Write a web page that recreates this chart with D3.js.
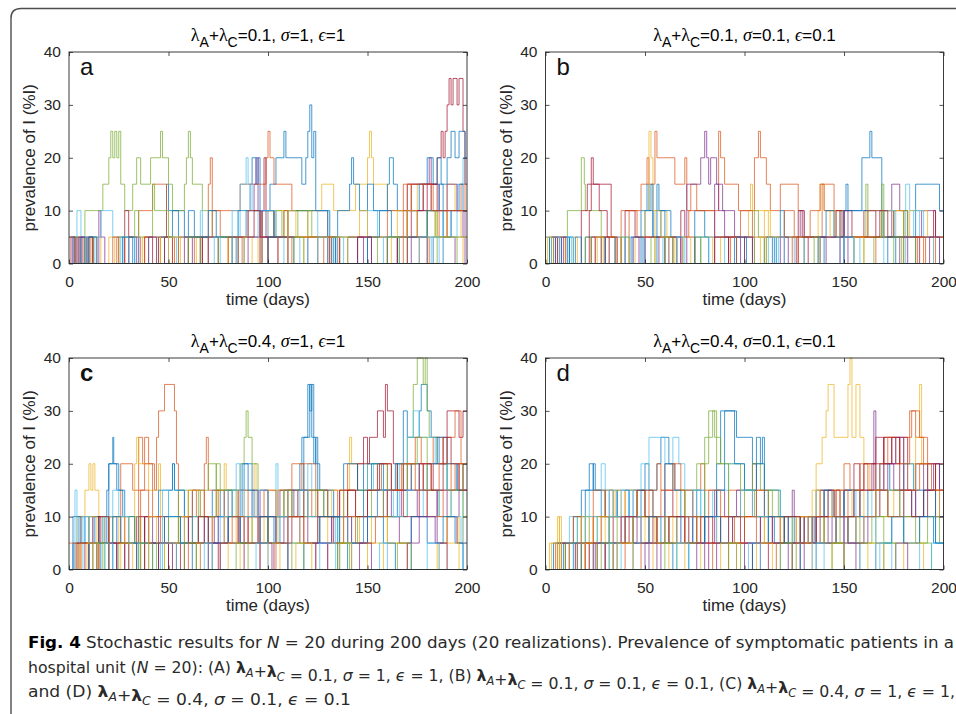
<!DOCTYPE html>
<html>
<head>
<meta charset="utf-8">
<script src="https://cdn.jsdelivr.net/npm/d3@7"></script>
<style>
  body { margin: 0; background: #fff; }
  svg { display: block; }
</style>
</head>
<body>
<svg id="fig" width="956" height="714"></svg>
<script>
// tick labels, panel texts
const X_TICKS = [0, 50, 100, 150, 200];
const Y_TICKS = [0, 10, 20, 30, 40];
const PANEL_LETTERS = ["a", "b", "c", "d"];
const PANEL_LAMBDA = ["0.1", "0.1", "0.4", "0.4"];
const PANEL_SIGMA = ["1", "0.1", "1", "0.1"];
const PANEL_EPS = ["1", "0.1", "1", "0.1"];
// matlab default line colours, used in order
const COLORS = ["#0072BD", "#D95319", "#EDB120", "#7E2F8E", "#77AC30", "#4DBEEE", "#A2142F"];

// each realization: [day, prevalence, day, prevalence, ...], value holds until next day listed
const seriesA = [
  [0,0, 2,5, 5,0, 9,5, 12,0, 30,5, 33,0, 48,5, 49,15, 50,10, 58,5, 66,0, 88,5, 89,10, 91,15, 92,20, 94,15, 95,20, 96,10, 101,15, 104,20, 108,25, 109,20, 117,15, 119,20, 120,25, 121,30, 122,20, 123,25, 124,10, 131,5, 133,0, 134,5, 136,0, 160,5, 165,0, 183,5, 188,0],
  [0,0, 4,5, 8,0, 11,5, 14,0, 24,5, 28,0, 35,10, 42,15, 49,5, 53,0, 63,5, 70,15, 71,20, 72,10, 86,15, 99,20, 100,25, 101,20, 103,15, 112,10, 130,5, 135,0, 150,5, 160,0, 176,5, 181,0],
  [0,0, 12,5, 16,0, 37,5, 40,0, 64,5, 75,0, 80,5, 95,0, 100,10, 110,5, 120,10, 127,15, 133,10, 144,15, 150,20, 151,25, 152,20, 153,15, 160,10, 170,5, 175,15, 178,10, 185,5, 198,0],
  [0,0, 2,5, 4,0, 15,10, 16,5, 18,0, 45,5, 50,0, 58,5, 62,0, 82,5, 90,10, 93,15, 94,20, 95,10, 97,5, 105,0, 120,5, 125,0, 165,5, 170,15, 181,20, 182,15, 186,10, 190,5, 194,0, 199,10],
  [0,0, 3,5, 6,0, 8,10, 17,15, 20,20, 21,25, 22,20, 23,25, 24,20, 25,25, 26,15, 28,10, 32,15, 34,20, 36,15, 41,20, 46,25, 47,20, 50,15, 52,10, 58,15, 59,20, 60,25, 61,20, 62,15, 67,10, 72,5, 85,0, 97,10, 103,5, 108,10, 120,5, 130,0, 145,5, 155,0, 180,10, 185,0],
  [0,5, 4,10, 6,5, 16,10, 22,5, 27,0, 40,5, 48,0, 60,5, 66,10, 67,5, 86,15, 89,20, 90,15, 92,10, 100,5, 108,0, 120,5, 125,10, 131,0, 133,5, 138,0, 150,10, 155,5, 170,10, 180,5, 195,15, 198,20, 199,15],
  [0,0, 1,5, 3,0, 5,5, 7,0, 28,10, 30,5, 35,0, 48,5, 52,0, 67,5, 70,0, 97,10, 98,20, 99,10, 103,5, 110,0, 130,5, 136,0, 165,5, 172,15, 185,20, 187,25, 188,20, 189,25, 190,30, 191,35, 192,30, 193,35, 195,30, 196,35, 198,25, 199,15],
  [0,5, 3,0, 6,5, 8,0, 45,5, 52,10, 55,5, 60,10, 63,5, 85,10, 100,10, 103,5, 110,10, 125,10, 130,5, 135,10, 141,15, 142,20, 143,15, 146,10, 150,15, 153,10, 160,15, 161,20, 163,15, 165,10, 176,15, 180,20, 183,15, 185,20, 187,15, 190,20, 192,25, 194,20, 196,25, 199,20],
  [0,0, 9,5, 12,0, 30,5, 36,0, 46,5, 52,0, 66,5, 72,10, 76,5, 90,10, 96,5, 108,10, 110,5, 136,0, 140,5, 160,10, 168,15, 172,10, 178,15, 183,10, 186,5, 190,10, 197,15, 199,10],
  [0,0, 20,5, 23,0, 44,5, 46,0, 70,5, 80,0, 96,5, 100,0, 118,5, 125,0, 140,5, 146,10, 150,5, 165,10, 170,5, 180,10, 184,5, 190,15, 194,10, 197,5],
  [0,0, 6,5, 9,0, 30,5, 34,0, 70,5, 75,0, 96,10, 99,5, 110,0, 140,5, 148,0, 160,5, 175,10, 178,15, 182,10, 190,15, 195,10, 198,5],
  [0,0, 10,5, 12,0, 25,5, 33,10, 35,5, 42,15, 43,10, 50,5, 55,0, 75,5, 82,0, 100,5, 104,10, 107,5, 115,10, 122,5, 140,5, 145,0, 170,5, 180,10, 184,5, 195,0],
  [0,0, 9,5, 13,0, 26,5, 30,0, 50,5, 54,0, 82,10, 85,5, 95,10, 104,5, 116,0, 135,5, 140,0, 158,5, 166,0, 182,5, 188,10, 192,5],
  [0,0, 10,5, 12,0, 38,5, 42,0, 60,5, 67,0, 85,5, 93,10, 96,5, 131,0, 145,5, 152,0, 170,10, 180,15, 185,10],
  [0,0, 10,5, 14,0, 27,5, 32,0, 60,5, 70,10, 74,5, 84,0, 100,5, 113,0, 132,5, 134,0, 150,5, 156,10, 162,5, 180,10, 186,15, 188,5, 192,10, 196,15, 198,10],
  [0,5, 3,0, 22,5, 25,0, 38,5, 45,0, 55,5, 60,0, 80,5, 87,0, 105,5, 112,0, 128,5, 132,0, 168,10, 170,15, 182,10],
  [0,0, 50,5, 56,0, 88,5, 92,0, 110,10, 114,5, 140,0, 162,5, 170,10, 175,5],
  [0,0, 40,5, 44,0, 90,5, 100,0, 145,5, 152,0, 172,5, 180,0],
  [0,0, 60,5, 66,0, 113,5, 118,0, 160,5, 166,0],
  [0,0, 33,5, 35,0, 73,5, 76,0, 125,5, 130,0, 176,5, 186,0]
];

const seriesB = [
  [0,0, 3,5, 5,0, 12,5, 14,0, 20,5, 30,0, 50,10, 51,15, 52,10, 54,5, 60,0, 75,10, 80,5, 95,0, 110,5, 115,0, 130,5, 148,10, 151,15, 152,10, 159,20, 163,25, 164,20, 169,10, 175,5, 186,15, 193,15, 198,10, 200,5],
  [0,0, 4,5, 7,0, 38,10, 48,15, 51,20, 52,15, 55,25, 56,20, 65,15, 70,20, 71,10, 73,15, 76,10, 87,25, 88,20, 90,15, 97,10, 105,20, 107,25, 108,20, 111,15, 113,10, 118,15, 127,10, 130,5, 139,15, 145,10, 150,5, 166,0, 180,5, 190,0],
  [0,0, 2,5, 10,0, 30,5, 35,0, 45,5, 50,10, 52,25, 53,20, 54,10, 61,5, 64,0, 88,5, 102,10, 103,15, 104,10, 113,5, 130,0, 137,10, 138,15, 140,10, 145,5, 169,10, 180,5, 186,0, 195,5],
  [0,0, 5,5, 8,0, 23,5, 25,0, 50,5, 57,0, 71,15, 78,20, 80,25, 81,20, 82,15, 83,20, 86,15, 89,10, 95,5, 100,0, 120,5, 128,10, 130,5, 150,10, 152,5, 174,15, 178,10, 182,5, 189,10, 196,5],
  [0,0, 2,5, 4,0, 11,10, 18,20, 19.5,15, 20,10, 28,5, 35,0, 53,5, 55,0, 100,5, 105,0, 160,5, 161,15, 162,5, 170,10, 175,5, 180,0],
  [0,0, 6,5, 13,0, 40,5, 44,0, 59,5, 62,0, 90,5, 96,0, 125,5, 130,0, 148,5, 158,0, 181,15, 183,10, 188,5, 198,0],
  [0,0, 3,5, 6,0, 18,10, 21,15, 23,20, 24,15, 33,5, 35,0, 40,10, 45,5, 60,0, 68,10, 70,5, 75,0, 92,5, 104,0, 126,5, 132,0, 150,10, 154,5, 160,10, 166,5, 188,0],
  [0,5, 2,0, 8,5, 12,0, 28,5, 30,0, 48,10, 53,15, 54,5, 58,10, 60,5, 66,0, 75,5, 82,0, 111,5, 114,0, 116,5, 118,10, 120,5, 140,0, 150,10, 169,5, 182,5, 186,0],
  [0,0, 7,5, 10,0, 23,5, 38,0, 42,10, 46,5, 72,10, 85,5, 98,10, 104,5, 120,10, 125,5, 133,10, 138,15, 140,10, 148,5, 162,10, 170,5, 175,10, 180,5, 196,0],
  [0,0, 1,5, 3,0, 14,5, 16,0, 32,5, 36,0, 55,10, 58,5, 65,0, 78,5, 84,0, 110,10, 112,5, 143,10, 146,5, 169,10, 180,5, 183,10, 192,5],
  [0,0, 9,5, 11,0, 30,5, 32,0, 64,5, 68,0, 85,15, 87,10, 90,5, 98,0, 118,5, 122,0, 148,5, 152,0, 178,5, 182,0],
  [0,0, 20,5, 23,0, 60,5, 64,0, 105,10, 107,5, 110,0, 165,5, 169,15, 170,5, 180,10, 182,5, 186,0],
  [0,0, 11,5, 14,0, 35,5, 40,0, 78,5, 82,0, 117,5, 120,0, 170,10, 176,5, 185,10, 190,5, 195,0],
  [0,0, 22,10, 23,15, 27,10, 31,5, 36,0, 85,5, 92,0, 127,10, 129,5, 146,10, 149,5, 168,10, 172,5, 195,10, 196,5],
  [0,0, 15,5, 18,0, 43,5, 49,0, 56,15, 57,10, 63,5, 69,0, 96,5, 101,0, 137,5, 141,10, 145,5, 155,0, 172,5, 176,0],
  [0,0, 25,5, 28,0, 62,5, 66,0, 93,5, 96,0, 124,5, 127,0, 187,5, 191,0],
  [0,0, 26,5, 29,0, 69,5, 73,0, 108,5, 111,0, 155,5, 160,0],
  [0,0, 44,5, 47,0, 100,5, 104,0, 138,5, 141,0, 193,5, 198,0],
  [0,0, 38,5, 42,0, 75,5, 78,0, 135,5, 138,0, 175,5, 179,0],
  [0,0, 3,5, 7,0, 66,5, 70,0, 112,5, 116,0, 150,5, 155,0]
];

const seriesC = [
  [0,0, 2,5, 5,10, 8,5, 13,10, 15,5, 19,15, 20,20, 22,25, 22.5,20, 25,15, 27,10, 30,5, 38,10, 40,0, 54,5, 58,10, 62,15, 66,10, 72,15, 76,10, 80,5, 86,15, 88,20, 92,15, 95,10, 100,5, 104,10, 108,15, 116,20, 117,25, 120,35, 121,30, 122,35, 123,20, 124,25, 125,15, 130,10, 135,0, 140,10, 148,20, 155,15, 160,10, 165,20, 168,30, 170,25, 176,30, 177,35, 180,30, 182,25, 186,20, 190,15, 195,20, 198,15],
  [0,0, 3,5, 6,10, 10,5, 15,10, 18,5, 26,20, 32,15, 35,25, 37,20, 38,25, 40,20, 43,15, 44,25, 45,30, 48,35, 53,30, 54,20, 55,10, 60,15, 64,10, 68,20, 69,25, 70,15, 75,10, 80,15, 85,5, 90,10, 95,5, 100,10, 105,15, 112,20, 118,15, 122,10, 128,15, 135,10, 140,20, 150,15, 155,20, 160,15, 168,20, 172,15, 178,20, 183,25, 188,20, 192,15, 196,20],
  [0,0, 4,10, 8,15, 10,20, 11,15, 12,20, 13,15, 15,10, 20,5, 25,10, 28,5, 33,20, 34,25, 35,20, 40,15, 45,20, 46,10, 50,5, 58,10, 62,5, 70,10, 75,15, 78,20, 79,15, 82,10, 88,15, 93,20, 94,10, 100,15, 108,10, 115,15, 125,10, 130,5, 138,15, 141,25, 142,20, 145,15, 150,10, 160,5, 170,0, 185,5, 190,10, 195,5, 198,10],
  [0,0, 10,5, 14,0, 20,10, 24,5, 30,0, 38,5, 45,10, 50,5, 60,10, 65,5, 73,10, 78,5, 86,10, 92,15, 95,10, 100,5, 108,10, 115,15, 120,10, 126,5, 132,10, 140,5, 150,10, 158,15, 162,10, 166,5, 172,10, 180,15, 185,5, 190,10, 196,15],
  [0,0, 5,5, 10,0, 17,10, 22,5, 30,10, 33,5, 38,0, 48,5, 55,15, 60,10, 65,15, 70,20, 74,15, 86,20, 88,25, 89,30, 90,25, 92,20, 95,15, 100,10, 110,15, 118,10, 124,15, 130,10, 140,15, 150,20, 160,15, 165,20, 170,25, 173,35, 175,40, 178,35, 179,40, 180,30, 181,25, 185,20, 190,15, 198,20],
  [0,0, 3,15, 4,5, 8,10, 12,5, 18,10, 24,0, 30,5, 35,0, 45,5, 50,15, 52,20, 53,15, 58,10, 65,5, 75,10, 80,15, 84,20, 86,15, 92,10, 96,5, 104,20, 105,10, 110,15, 120,20, 122,15, 128,10, 135,5, 142,10, 150,20, 153,15, 160,10, 166,20, 170,25, 173,30, 176,25, 184,20, 190,15, 198,0],
  [0,0, 8,5, 12,10, 16,5, 24,0, 34,10, 38,5, 45,0, 56,10, 60,5, 68,10, 72,5, 80,10, 85,5, 90,10, 95,5, 103,0, 110,10, 118,15, 125,10, 133,5, 140,15, 145,20, 148,25, 150,20, 151,25, 155,30, 158,25, 159,35, 160,30, 163,20, 165,15, 170,20, 178,15, 183,20, 190,30, 196,25, 198,30],
  [0,0, 2,10, 6,5, 10,10, 15,5, 20,20, 24,15, 28,10, 33,5, 40,10, 45,15, 52,20, 53,15, 58,10, 62,5, 70,10, 78,15, 82,10, 87,20, 90,15, 93,10, 100,5, 106,10, 112,15, 118,25, 121,35, 122,25, 124,20, 126,15, 133,10, 138,20, 145,15, 152,20, 158,15, 164,20, 168,15, 172,20, 176,15, 180,20, 185,25, 190,20, 195,15],
  [0,5, 5,0, 12,5, 20,10, 28,5, 35,15, 38,20, 42,10, 48,5, 55,10, 62,15, 68,10, 74,15, 78,10, 85,15, 90,10, 98,15, 104,10, 110,15, 117,20, 124,15, 130,10, 136,15, 144,10, 150,15, 157,20, 162,15, 167,20, 174,25, 177,20, 182,15, 186,20, 190,25, 194,30, 197,20],
  [0,0, 6,5, 10,10, 14,5, 20,10, 30,5, 36,10, 40,0, 48,5, 55,10, 60,15, 66,10, 72,5, 78,10, 84,5, 92,10, 98,5, 105,15, 112,10, 118,5, 125,10, 132,15, 138,10, 146,5, 152,10, 160,5, 170,0, 186,5, 190,10, 196,5],
  [0,0, 15,5, 20,0, 28,5, 35,10, 42,5, 50,0, 62,5, 68,10, 75,5, 88,10, 96,15, 100,10, 106,15, 113,10, 120,5, 132,10, 142,5, 148,10, 155,15, 160,10, 167,15, 175,10, 185,15, 190,10, 195,5],
  [0,0, 12,5, 18,0, 25,5, 33,10, 35,0, 44,5, 50,10, 55,5, 65,10, 74,20, 76,15, 84,10, 92,5, 100,10, 108,15, 112,10, 120,15, 128,10, 136,5, 145,10, 152,15, 158,10, 170,20, 175,25, 180,15, 186,10, 192,15, 198,10],
  [0,0, 7,10, 10,5, 17,10, 22,15, 25,10, 30,5, 40,0, 47,15, 50,10, 56,5, 62,0, 70,5, 76,10, 82,15, 88,10, 95,15, 100,10, 110,5, 116,15, 120,10, 126,5, 134,10, 140,5, 148,10, 155,15, 163,10, 170,15, 178,10, 186,15, 192,10, 197,5],
  [0,0, 4,5, 10,0, 15,10, 20,5, 28,0, 38,10, 40,5, 50,0, 58,5, 65,10, 70,5, 75,0, 88,5, 96,10, 104,5, 112,10, 118,5, 125,10, 136,15, 144,10, 150,15, 156,20, 162,15, 168,10, 176,20, 182,15, 188,25, 192,20, 196,15],
  [0,0, 10,5, 16,0, 22,10, 26,5, 34,0, 42,5, 48,10, 56,5, 64,0, 72,5, 80,10, 86,5, 96,10, 103,5, 110,0, 118,5, 126,10, 136,0, 142,5, 150,10, 158,5, 164,0, 172,10, 180,5, 188,10, 194,5, 198,0],
  [0,0, 6,5, 14,0, 24,5, 30,0, 36,15, 40,10, 46,5, 54,0, 60,5, 66,0, 76,5, 82,10, 88,5, 96,0, 104,5, 110,10, 116,5, 124,0, 130,5, 138,10, 144,5, 154,10, 160,15, 168,20, 174,15, 180,10, 188,15, 194,20, 198,15],
  [0,0, 9,5, 15,0, 26,5, 32,0, 40,10, 44,5, 52,0, 64,5, 72,0, 80,5, 86,0, 100,5, 106,0, 114,5, 122,0, 136,5, 142,0, 150,5, 158,0, 190,5, 196,0],
  [0,0, 20,5, 24,0, 45,5, 52,0, 70,5, 76,0, 96,5, 102,0, 124,5, 130,0, 146,5, 152,0, 170,5, 176,10, 184,5, 190,0],
  [0,0, 14,5, 20,0, 36,5, 42,0, 58,5, 64,0, 84,5, 90,0, 112,5, 118,0, 135,5, 141,0, 165,5, 172,0],
  [0,0, 18,5, 22,0, 46,5, 54,0, 68,5, 72,0, 94,5, 100,0, 126,5, 134,0, 156,5, 160,0, 180,5, 186,0]
];

const seriesD = [
  [0,0, 7,5, 10,0, 18,15, 22,20, 24,15, 28,10, 32,15, 36,10, 44,15, 50,20, 52,15, 56,20, 58,25, 62,20, 65,15, 70,10, 76,15, 80,10, 86,20, 88,30, 96,25, 104,20, 106,25, 108,20, 109,25, 110,15, 118,10, 125,5, 135,10, 140,15, 145,10, 150,15, 155,10, 162,15, 168,20, 173,15, 180,20, 185,15, 190,10, 195,5],
  [0,0, 5,5, 10,0, 20,5, 24,10, 30,15, 34,10, 40,15, 46,10, 52,15, 56,20, 58,15, 60,20, 65,15, 70,10, 74,15, 78,20, 80,15, 86,10, 92,15, 98,10, 104,15, 110,10, 120,5, 128,10, 136,15, 140,10, 146,15, 150,20, 153,15, 160,20, 166,15, 170,25, 176,20, 180,25, 184,30, 186,25, 190,20, 196,15],
  [0,0, 2,5, 6,10, 7,0, 15,5, 20,10, 24,5, 30,15, 34,10, 40,15, 46,10, 55,5, 60,10, 66,15, 70,10, 80,5, 88,10, 110,5, 120,10, 130,5, 136,20, 139,25, 141,30, 142,35, 145,25, 152,35, 153,40, 154,25, 156,35, 158,25, 160,20, 163,15, 168,10, 175,15, 180,20, 186,25, 188,35, 189,20, 192,15, 198,10],
  [0,0, 12,5, 18,0, 25,5, 32,10, 40,5, 46,10, 52,5, 60,10, 68,5, 74,10, 80,5, 85,15, 90,10, 96,15, 104,20, 106,10, 112,5, 118,10, 124,15, 125,10, 130,5, 136,10, 144,5, 150,10, 158,15, 164,20, 165,30, 166,15, 170,20, 175,15, 180,10, 186,20, 190,15, 195,20, 198,10],
  [0,0, 10,5, 16,10, 20,5, 26,10, 32,5, 40,10, 46,15, 50,10, 56,5, 62,10, 70,15, 76,20, 80,25, 82,30, 86,25, 88,20, 98,15, 104,20, 108,15, 114,10, 120,5, 128,10, 134,5, 140,10, 146,5, 152,10, 158,5, 166,10, 172,15, 178,10, 186,5, 192,10, 198,5],
  [0,0, 12,10, 16,5, 22,15, 28,20, 30,15, 34,10, 42,15, 48,20, 52,25, 60,20, 64,25, 67,20, 70,15, 78,10, 84,15, 92,20, 100,15, 106,10, 112,15, 118,10, 124,5, 130,10, 136,15, 142,10, 150,15, 156,10, 164,15, 172,10, 180,20, 185,15, 190,10, 196,5],
  [0,0, 6,5, 12,0, 20,5, 28,10, 34,5, 42,10, 48,5, 54,10, 60,15, 64,10, 70,5, 76,10, 82,5, 88,10, 94,5, 100,10, 108,5, 114,10, 122,5, 130,10, 138,15, 145,10, 150,15, 155,20, 158,15, 165,20, 170,25, 174,20, 178,25, 182,15, 186,20, 192,15, 196,10],
  [0,0, 4,5, 8,0, 14,10, 20,15, 24,20, 25,15, 30,10, 36,15, 42,10, 48,15, 54,10, 60,20, 64,15, 68,10, 74,5, 80,10, 86,15, 90,30, 95,20, 100,15, 106,20, 110,10, 115,5, 122,10, 128,5, 134,10, 140,15, 144,10, 150,15, 158,10, 166,15, 172,10, 178,15, 184,10, 190,15, 196,10],
  [0,0, 8,5, 14,10, 18,5, 24,15, 30,10, 38,5, 44,10, 50,15, 54,10, 58,15, 64,20, 68,15, 74,10, 82,15, 88,10, 95,5, 100,10, 106,15, 112,10, 118,5, 126,10, 134,5, 140,10, 146,15, 152,10, 158,20, 162,15, 168,20, 172,25, 178,20, 183,30, 188,25, 192,20, 196,15],
  [0,0, 3,5, 6,0, 12,5, 18,10, 22,5, 28,10, 35,15, 38,10, 44,5, 50,10, 56,5, 64,10, 72,5, 78,10, 86,5, 94,10, 100,5, 110,10, 118,5, 126,10, 134,15, 138,10, 144,15, 148,10, 154,15, 160,10, 166,15, 172,10, 178,15, 186,20, 192,10, 198,15],
  [0,0, 15,5, 22,0, 30,5, 38,10, 44,5, 52,0, 58,5, 66,10, 72,5, 80,0, 86,5, 94,10, 100,5, 108,10, 114,5, 122,0, 128,5, 136,10, 142,5, 150,10, 156,5, 162,10, 168,15, 172,20, 176,25, 180,15, 186,10, 192,20, 198,15],
  [0,0, 18,5, 24,0, 32,10, 36,5, 44,10, 52,5, 60,10, 66,5, 76,10, 80,20, 82,25, 84,30, 85,25, 86,20, 92,10, 100,15, 105,10, 112,15, 117,10, 124,5, 132,10, 140,5, 148,10, 156,5, 164,10, 170,5, 180,10, 188,5, 194,0],
  [0,0, 14,5, 20,10, 26,5, 32,10, 38,15, 42,10, 48,5, 56,10, 62,5, 68,10, 74,15, 78,10, 86,5, 92,10, 98,15, 104,10, 112,5, 118,0, 126,5, 132,10, 138,5, 146,10, 152,5, 160,10, 166,5, 174,10, 180,5, 188,0, 194,5],
  [0,0, 20,5, 26,0, 34,5, 40,10, 46,15, 50,10, 56,5, 62,10, 70,5, 78,10, 84,5, 92,10, 98,5, 104,0, 112,5, 120,10, 128,5, 136,10, 142,15, 148,10, 155,15, 160,20, 166,25, 170,20, 174,25, 178,15, 184,10, 190,15, 196,20],
  [0,0, 9,5, 16,0, 26,5, 36,0, 44,5, 52,10, 58,5, 64,0, 72,5, 80,10, 88,5, 96,0, 104,5, 112,10, 120,5, 128,0, 136,5, 146,10, 152,5, 158,0, 166,5, 174,10, 180,5, 188,10, 196,5],
  [0,0, 16,5, 22,0, 30,5, 40,0, 48,5, 56,10, 62,5, 70,10, 76,5, 84,0, 92,5, 100,10, 106,5, 116,0, 124,5, 132,10, 138,5, 146,10, 152,5, 160,10, 166,15, 172,10, 180,15, 188,20, 194,15],
  [0,0, 7,10, 8,0, 20,5, 26,0, 36,5, 44,0, 54,5, 62,0, 70,5, 78,0, 88,5, 96,0, 106,5, 114,0, 126,5, 134,0, 144,5, 150,0, 162,5, 170,0, 180,5, 190,0],
  [0,0, 24,5, 30,0, 50,5, 56,0, 76,5, 82,0, 100,5, 108,0, 124,5, 130,0, 150,5, 156,0, 176,5, 182,0],
  [0,0, 28,5, 34,0, 60,5, 66,0, 92,5, 98,0, 118,5, 124,0, 144,5, 150,0, 170,5, 176,0],
  [0,0, 32,5, 38,0, 66,5, 72,0, 102,5, 108,0, 134,5, 140,0, 168,5, 174,0]
];

const ALL_SERIES = [seriesA, seriesB, seriesC, seriesD];

// layout
const PANEL_POS = [[69, 52], [545.5, 52], [69, 358], [545.5, 358]];
const PW = 398, PH = 211.5;
const SANS = "'Liberation Sans', Arial, Helvetica, sans-serif";
const SERIF = "'Liberation Serif', 'Times New Roman', serif";
const AX_COLOR = "#262626";

const svg = d3.select("#fig");

// rounded frame round the figure
svg.append("path")
    .attr("d", "M11,714 V18 Q11,8.5 21,8.5 H956")
    .attr("fill", "none")
    .attr("stroke", "#4d4d4d")
    .attr("stroke-width", 1.4);

// turn a flat [t,v,t,v..] list into points, held up to day 200
function toPoints(flat) {
  const pts = [];
  for (let k = 0; k < flat.length; k += 2) pts.push([flat[k], flat[k + 1]]);
  pts.push([X_TICKS[X_TICKS.length - 1], pts[pts.length - 1][1]]);
  return pts;
}

ALL_SERIES.forEach((series, i) => {
  const [left, top] = PANEL_POS[i];
  const g = svg.append("g").attr("transform", "translate(" + left + "," + top + ")");

  const X_SCALE = d3.scaleLinear().domain([0, 200]).range([0, PW]);
  const Y_SCALE = d3.scaleLinear().domain([0, 40]).range([PH, 0]);

  g.append("clipPath").attr("id", "clip" + i)
    .append("rect").attr("x", -1).attr("y", -1).attr("width", PW + 2).attr("height", PH + 2);

  const line = d3.line()
      .x(d => X_SCALE(d[0]))
      .y(d => Y_SCALE(d[1]))
      .curve(d3.curveStepAfter);

  g.append("g").attr("clip-path", "url(#clip" + i + ")")
    .selectAll("path")
    .data(series)
    .enter()
    .append("path")
      .attr("d", d => line(toPoints(d)))
      .attr("fill", "none")
      .attr("stroke", (d, k) => COLORS[k % COLORS.length])
      .attr("stroke-opacity", 0.72)
      .attr("stroke-width", 1);

  // axes, ticks point inward like matlab
  const xAxis = g.append("g").attr("transform", "translate(0," + PH + ")")
      .call(d3.axisBottom(X_SCALE).tickValues(X_TICKS).tickSize(-4).tickPadding(12));
  const yAxis = g.append("g")
      .call(d3.axisLeft(Y_SCALE).tickValues(Y_TICKS).tickSize(-4).tickPadding(8));
  const xTop = g.append("g")
      .call(d3.axisTop(X_SCALE).tickValues(X_TICKS).tickSize(-4).tickFormat(""));
  const yRight = g.append("g").attr("transform", "translate(" + PW + ",0)")
      .call(d3.axisRight(Y_SCALE).tickValues(Y_TICKS).tickSize(-4).tickFormat(""));

  [xAxis, yAxis, xTop, yRight].forEach(a => {
    a.select(".domain").remove();
    a.selectAll("line").attr("stroke", AX_COLOR).attr("stroke-width", 0.8);
    a.selectAll("text").attr("fill", AX_COLOR).attr("font-family", SANS).attr("font-size", 15.5);
  });

  g.append("rect")
    .attr("width", PW).attr("height", PH)
    .attr("fill", "none")
    .attr("stroke", AX_COLOR)
    .attr("stroke-width", 0.9);

  // panel letter
  g.append("text")
    .attr("x", 11).attr("y", 23)
    .attr("font-family", SANS)
    .attr("font-size", 24)
    .attr("font-weight", PANEL_LETTERS[i] === "c" ? "bold" : "normal")
    .attr("fill", "#111")
    .text(PANEL_LETTERS[i]);

  // axis labels
  g.append("text")
    .attr("x", PW / 2).attr("y", PH + 41.5)
    .attr("text-anchor", "middle")
    .attr("font-family", SANS).attr("font-size", 17)
    .attr("fill", AX_COLOR)
    .text("time (days)");

  g.append("text")
    .attr("transform", "translate(-34," + (PH / 2) + ") rotate(-90)")
    .attr("text-anchor", "middle")
    .attr("font-family", SANS).attr("font-size", 17)
    .attr("fill", AX_COLOR)
    .text("prevalence of I (%I)");

  // title with greek letters and subscripts
  const title = g.append("text")
    .attr("x", PW / 2).attr("y", -11.5)
    .attr("text-anchor", "middle")
    .attr("font-family", SANS).attr("font-size", 17)
    .attr("fill", "#000");
  title.append("tspan").attr("font-family", SERIF).attr("font-size", 18).text("λ");
  title.append("tspan").attr("font-size", 14).attr("dy", 6).text("A");
  title.append("tspan").attr("dy", -6).text("+");
  title.append("tspan").attr("font-family", SERIF).attr("font-size", 18).text("λ");
  title.append("tspan").attr("font-size", 14).attr("dy", 6).text("C");
  title.append("tspan").attr("dy", -6).text("=" + PANEL_LAMBDA[i] + ", ");
  title.append("tspan").attr("font-family", SERIF).attr("font-style", "italic").attr("font-size", 18).text("σ");
  title.append("tspan").text("=" + PANEL_SIGMA[i] + ", ");
  title.append("tspan").attr("font-family", SERIF).attr("font-style", "italic").attr("font-size", 18).text("ϵ");
  title.append("tspan").text("=" + PANEL_EPS[i]);
});

// caption
const CAP_FONT = "'Liberation Sans Narrow', 'DejaVu Sans Condensed', 'Open Sans', sans-serif";
const cap = svg.append("g").attr("font-family", CAP_FONT).attr("font-size", 16.5).attr("fill", "#2a2a2a");

function lam(t, sub) {
  t.append("tspan").attr("font-weight", "bold").text("λ");
  t.append("tspan").attr("font-style", "italic").attr("font-size", 12).attr("dy", 4).text(sub);
  t.append("tspan").attr("dy", -4).text("");
}
function params(t, lab, l, s, e, tail) {
  t.append("tspan").text(lab);
  lam(t, "A");
  t.append("tspan").text("+");
  lam(t, "C");
  t.append("tspan").text(" = " + l + ", ");
  t.append("tspan").attr("font-style", "italic").text("σ");
  t.append("tspan").text(" = " + s + ", ");
  t.append("tspan").attr("font-style", "italic").text("ϵ");
  t.append("tspan").text(" = " + e + tail);
}

const l1 = cap.append("text").attr("x", 28).attr("y", 648)
  .attr("textLength", 926).attr("lengthAdjust", "spacingAndGlyphs");
l1.append("tspan").attr("font-weight", "bold").attr("fill", "#000").text("Fig. 4");
l1.append("tspan").text("  Stochastic results for ");
l1.append("tspan").attr("font-style", "italic").text("N");
l1.append("tspan").text(" = 20 during 200 days (20 realizations). Prevalence of symptomatic patients in a");

const l2 = cap.append("text").attr("x", 28).attr("y", 672.5)
  .attr("textLength", 927).attr("lengthAdjust", "spacingAndGlyphs");
l2.append("tspan").text("hospital unit (");
l2.append("tspan").attr("font-style", "italic").text("N");
l2.append("tspan").text(" = 20): ");
params(l2, "(A) ", PANEL_LAMBDA[0], PANEL_SIGMA[0], PANEL_EPS[0], ", ");
params(l2, "(B) ", PANEL_LAMBDA[1], PANEL_SIGMA[1], PANEL_EPS[1], ", ");
params(l2, "(C) ", PANEL_LAMBDA[2], PANEL_SIGMA[2], PANEL_EPS[2], ",");

const l3 = cap.append("text").attr("x", 28).attr("y", 697)
  .attr("textLength", 323).attr("lengthAdjust", "spacingAndGlyphs");
params(l3, "and (D) ", PANEL_LAMBDA[3], PANEL_SIGMA[3], PANEL_EPS[3], "");
</script>
</body>
</html>
